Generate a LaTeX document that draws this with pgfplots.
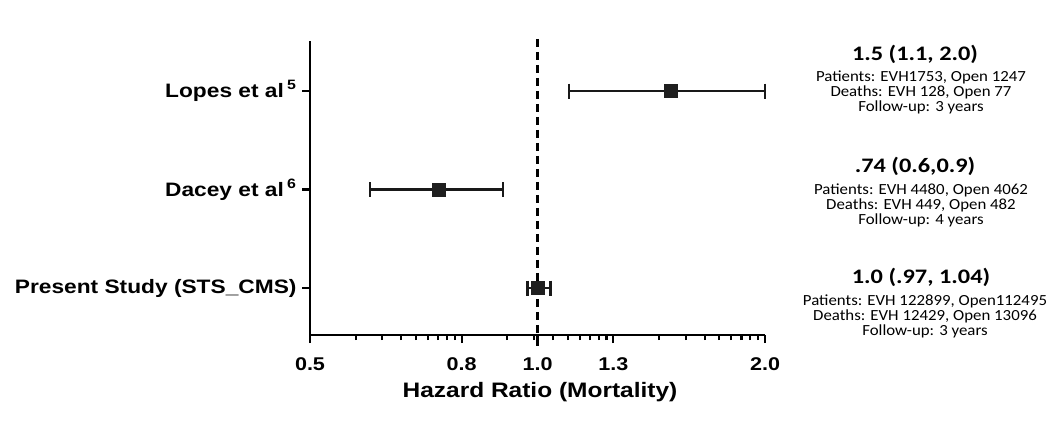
\documentclass[border=0pt]{standalone}
\usepackage{fontspec}
\setmainfont{Liberation Sans}[FakeStretch=1.17]
\newfontfamily\calfont{Carlito}[FakeStretch=1.18]
\newfontfamily\calsmall{Carlito}[FakeStretch=1.09]
\usepackage{pgfplots}
\pgfplotsset{compat=1.18}
\begin{document}
\begin{tikzpicture}[x=1bp,y=1bp]
\useasboundingbox (0,0) rectangle (1050,428);
\begin{axis}[
  at={(310bp,93bp)}, anchor=south west,
  width=455bp, height=294bp, scale only axis,
  xmode=log, xmin=0.5, xmax=2.0,
  ymin=0.523, ymax=3.508,
  axis lines=left, axis line style={-, line width=2.6bp},
  xtick={0.5,0.7937,1.0,1.2599,2.0},
  xticklabels={0.5,0.8,1.0,1.3,2.0},
  minor xtick={0.5747,0.6234,0.6604,0.6907,0.7164,0.7389,0.7590,0.7771,
               0.9122,0.9895,1.0483,1.0963,1.1371,1.1729,1.2047,1.2336,
               1.4480,1.5707,1.6641,1.7403,1.8051,1.8619,1.9124,1.9581},
  ytick={1,2,3},
  yticklabels={Present Study (STS\_CMS),Dacey et al\,\textsuperscript{6},Lopes et al\,\textsuperscript{5}},
  tick align=outside,
  major tick length=8bp, minor tick length=5bp,
  every tick/.style={black, line width=2.2bp},
  xticklabel style={font=\bfseries\fontsize{18.5}{18.5}\selectfont, yshift=-11bp},
  yticklabel style={font=\bfseries\fontsize{19.5}{19.5}\selectfont, xshift=-2bp},
  clip=false,
]
\draw[line width=2.8bp, dash pattern=on 8bp off 5bp] (axis cs:1,3.53) -- (axis cs:1,0.40);
\addplot[black!90, line width=2.4bp, mark=|, mark size=7.5bp, mark options={line width=2.6bp, solid}] coordinates {(1.1,3) (2.0,3)};
\addplot[black!90, line width=2.4bp, mark=|, mark size=7.5bp, mark options={line width=2.6bp, solid}] coordinates {(0.6,2) (0.9,2)};
\addplot[black!90, line width=2.4bp, mark=|, mark size=7.5bp, mark options={line width=2.6bp, solid}] coordinates {(0.97,1) (1.04,1)};
\addplot[only marks, mark=square*, mark size=6.5bp, color=black!88] coordinates {(1.5,3) (0.74,2) (1.0,1)};
\end{axis}
\node[font=\bfseries\fontsize{21}{21}\selectfont] at (540,36) {Hazard Ratio (Mortality)};
\begin{scope}[every node/.style={align=center, font=\calsmall\fontsize{15.5}{15.2}\selectfont}]
\node[font=\calfont\bfseries\fontsize{20.7}{20.7}\selectfont] at (915,374) {1.5 (1.1, 2.0)};
\node[anchor=north] at (921,361) {Patients: EVH1753, Open 1247\\Deaths: EVH 128, Open 77\\Follow-up: 3 years};
\node[font=\calfont\bfseries\fontsize{20.7}{20.7}\selectfont] at (915,262) {.74 (0.6,0.9)};
\node[anchor=north] at (921,248) {Patients: EVH 4480, Open 4062\\Deaths: EVH 449, Open 482\\Follow-up: 4 years};
\node[font=\calfont\bfseries\fontsize{20.7}{20.7}\selectfont] at (921,151) {1.0 (.97, 1.04)};
\node[anchor=north] at (925,137) {Patients: EVH 122899, Open112495\\Deaths: EVH 12429, Open 13096\\Follow-up: 3 years};
\end{scope}
\end{tikzpicture}
\end{document}
